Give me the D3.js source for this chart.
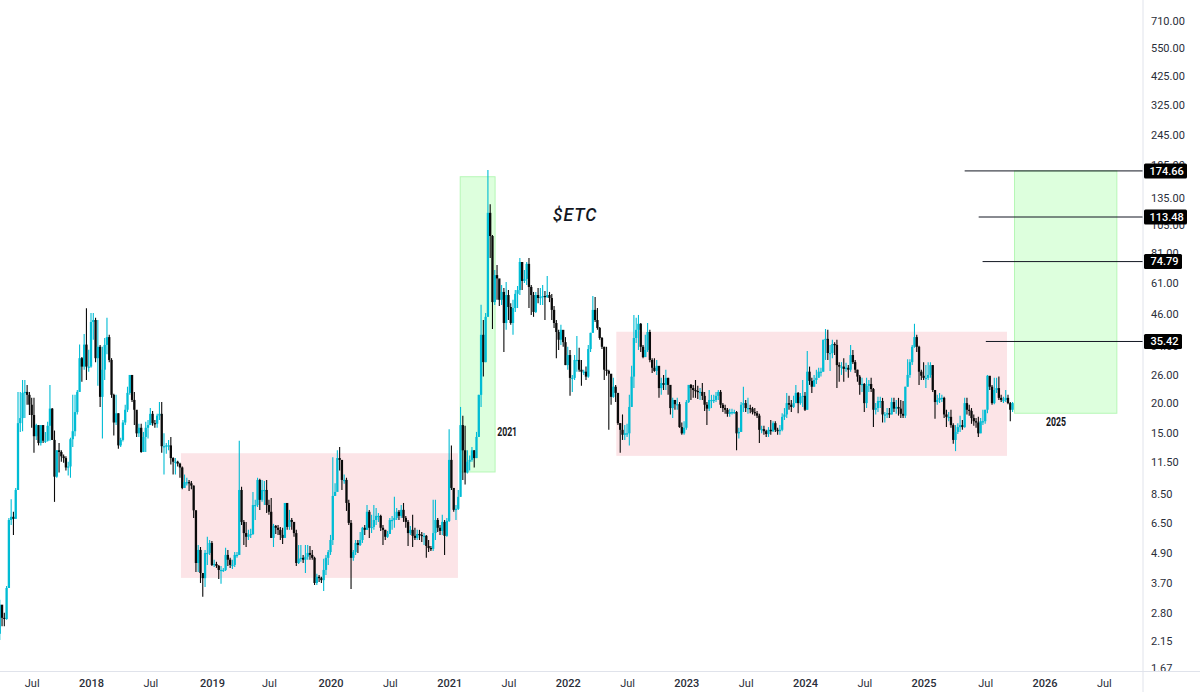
<!DOCTYPE html>
<html>
<head>
<meta charset="utf-8">
<title>$ETC weekly</title>
<script src="https://cdn.jsdelivr.net/npm/d3@7"></script>
<style>
    html, body { margin: 0; padding: 0; background: #fff; }
    svg { display: block; font-family: Roboto, sans-serif; }
</style>
</head>
<body>
<div id="chart"></div>
<script>
// Weekly closes, one row = 10 weeks, first week starts 2017-03-27
const closes = [
    3.02,2.67,2.64,3.53,6.67,6.87,6.74,8.83,16.5,17.3,
    21.9,22.1,21.5,19.6,17.8,14.6,16.2,13.7,16.2,14.0,
    14.0,16.1,18.9,14.1,10.0,12.8,12.6,12.1,11.9,10.9,
    11.0,14.2,15.3,18.3,22.1,30.3,28.0,34.4,28.0,28.0,
    42.5,43.3,30.3,33.7,21.1,27.2,34.3,36.9,29.8,21.5,
    16.6,18.1,13.4,14.1,16.6,18.7,21.9,25.9,20.5,18.7,
    15.0,15.8,12.6,14.5,15.8,16.2,18.0,16.5,16.4,17.7,
    18.0,13.3,13.3,13.4,13.4,11.9,11.5,11.5,11.3,10.9,
    9.0,9.5,9.5,9.4,9.2,7.3,4.46,5.04,4.06,3.87,
    4.9,4.9,5.38,4.38,4.42,4.34,4.18,4.18,4.18,4.81,
    4.6,4.38,4.38,4.81,4.81,8.83,6.55,5.9,5.7,5.8,
    5.85,7.67,7.67,9.7,8.05,8.83,8.83,7.67,7.2,5.64,
    6.31,6.2,6.08,5.8,5.64,7.82,6.25,6.67,6.55,5.9,
    4.46,4.64,4.68,4.6,4.73,4.9,4.81,4.68,3.7,3.92,
    3.87,3.8,4.18,4.68,4.94,5.53,8.35,8.67,11.9,11.7,
    9.7,9.7,7.82,6.49,4.68,4.94,5.38,5.28,5.53,6.2,
    6.08,7.2,6.2,6.25,6.67,6.93,6.93,6.2,6.08,5.7,
    5.85,6.67,6.67,6.8,7.2,6.93,7.33,6.8,6.55,5.9,
    6.08,5.75,5.64,5.85,5.8,5.75,5.75,5.23,5.13,5.09,
    5.9,6.67,6.2,6.02,6.55,5.75,6.61,11.7,9.0,7.33,
    7.4,8.28,16.2,12.8,10.4,11.5,11.7,12.8,11.9,14.5,
    21.5,37.7,29.2,44.6,118,95,51.2,65.9,63.9,52.3,
    56.3,42.1,54.7,48.9,42.1,48.4,55.3,57.3,74.5,62.4,
    63.6,73.2,59,54.7,46.7,54.7,53.2,53.7,54.2,53.7,
    54.7,53.2,47.6,42.1,38.7,36,39.5,35.2,28.4,31.2,
    25.2,25.2,29.8,29.8,27.2,26.7,26.7,25.5,33,38.4,
    47.6,43.3,40.2,36.6,33.7,27.2,26.9,26.2,21.1,23.2,
    21.9,16.5,15.5,14.8,15,15,19.2,25.5,36.6,39.5,
    41.8,33.7,30.6,32.7,38.7,29.8,27.7,26.9,28.2,22.9,
    24,23.6,25.2,23.6,19,20.5,19.7,19.7,15.9,15,
    15.8,20.1,23.6,22.9,22.5,22.3,22.1,22.1,21.3,19.6,
    18.9,20.5,20.5,20.5,21.3,22.1,19.6,19,18.7,18,
    18.3,18.3,18.3,15,15.2,19.6,19.9,19,19,18.9,
    18.3,18.1,17.7,15.5,15.6,15.3,14.9,15.5,15.3,16.5,
    15.5,15.3,15.5,17.5,17.9,19.9,19.6,19.2,19.9,21.9,
    19.9,21.1,21.3,18.7,26.7,24.5,23.2,24.7,25.2,26.7,
    26.7,36,36.3,31.8,31.8,34.6,34.3,28.4,28,28,
    27.4,27.7,27.2,31.2,29.2,27.2,25.5,23.6,23.8,19.9,
    23.4,23.8,22.7,18.7,19,20.3,20.3,17.9,17.9,18.1,
    17.9,20.1,18.9,19.2,18.9,18,17.7,23.2,25.9,29.2,
    33.7,36.9,33.7,26.7,25.7,25.2,25.2,25.9,28.4,22.5,
    20.1,20.5,20.9,20.9,17.9,17.5,17.5,16.2,14.1,15.2,
    15.9,16.2,15.9,19.9,18.7,18.5,17.3,16.8,16.6,15,
    16.8,16.8,18.7,25.7,23.2,19.9,22.5,22.9,20.9,20.5,
    20.5,20.9,19.9,18.7,19.9
];

const highs = [
    3.16,2.82,2.80,3.6,6.8,8.1,7.2,9.0,22.1,22.1,
    24.7,24.7,23.6,22.1,20.9,20.9,16.4,16.2,16.2,16.2,
    15.2,16.7,23.6,19.0,15.4,12.8,13.7,12.8,12.3,12.1,
    11.5,14.4,21.5,21.5,22.5,34.4,30.6,38.0,48.3,32.8,
    46.2,46.2,44.2,43.3,34.3,33.7,36.6,44.2,37.7,30.3,
    21.7,21.5,18.1,14.4,17.0,19.6,23.2,25.9,25.9,22.1,
    18.3,16.4,16.4,15.2,16.7,17.0,19.0,18.5,17.0,18.0,
    20.1,20.1,15.0,13.7,14.1,14.5,12.0,11.9,11.6,11.4,
    11.0,10.2,9.9,9.7,9.6,9.2,7.3,5.28,5.18,4.06,
    5.04,5.7,5.53,5.48,4.6,4.51,4.38,4.34,4.26,5.14,
    5.04,4.68,4.6,4.94,4.94,14.0,9.1,6.67,6.55,6.08,
    6.14,8.67,8.05,9.9,9.8,9.7,9.6,9.7,8.05,8.2,
    6.43,6.37,6.37,6.25,6.2,7.82,7.6,7.33,6.8,6.37,
    6.08,5.28,5.28,4.81,5.28,5.28,5.23,5.04,4.73,4.03,
    3.99,3.92,4.64,4.81,5.04,5.8,12.0,9.4,12.8,13.2,
    11.7,10.2,9.9,8.05,6.67,5.04,5.53,5.53,5.96,6.25,
    6.37,7.67,7.33,7.0,7.67,7.46,7.12,7.0,6.37,6.08,
    6.02,6.8,6.93,8.28,7.46,7.33,7.67,7.82,6.93,6.67,
    6.31,7.0,6.2,6.08,6.08,5.96,5.9,5.8,5.53,5.23,
    8.05,8.05,6.8,6.37,7.0,6.67,6.8,15.6,13.4,9.0,
    7.67,8.83,19.2,17.7,16.1,12.8,12.2,13.2,12.8,15.2,
    21.5,50,43.3,46.2,176,128,95.9,69.1,72.4,63,
    60.1,58.4,61.8,57.3,50.7,52.3,57.3,59.5,77.3,74.5,
    69.1,74.5,77.3,60.1,56.3,56.3,58.4,58.4,60.1,56.8,
    65.4,56.3,55.2,49.4,43.3,39.5,41.4,38.3,36.9,33.7,
    32.7,25.9,31.2,37.3,33.4,29.8,27.2,28,34.3,38.4,
    54.2,53.7,48.4,40.6,36.9,33.7,33.7,27.2,23.6,25.2,
    23.6,21.9,16.5,17.9,16.2,16.4,21.5,28.2,45.4,44.2,
    45.4,42.1,34.3,37.7,42.1,39.5,30.3,30.3,29.8,27.7,
    25.2,25.9,27.2,25.2,23.6,20.9,20.5,20.9,20.1,16.6,
    16.8,20.5,23.6,23.8,23.6,24.7,23.4,22.9,24,22.1,
    20.1,22.5,21.5,21.5,22.1,22.5,22.5,19.9,19.6,19,
    18.9,18.9,18.7,18.5,15.8,20.1,23.2,20.5,20.9,19.6,
    19.2,19,18.5,18,16.1,16.1,15.5,15.9,17,16.8,
    16.8,15.8,16.2,18.1,19,21.9,21.3,20.5,21.3,23.6,
    22.1,21.9,24.7,22.1,32.4,28,25.2,25.9,27.2,27.7,
    27.7,36,39.8,39.5,34.3,36,35.2,36,29.2,29.2,
    30.3,29,28.4,34.3,32.7,29.8,27.2,25.9,25.2,24,
    25.2,24.7,25.2,22.9,19.9,21.1,21.1,20.9,18.3,19,
    19,20.9,20.9,20.5,20.9,20.5,20.3,23.2,30,30,
    34.3,41.8,37.7,34,27.2,29.2,28.4,29.2,29.2,28.4,
    22.5,21.5,21.9,21.5,21.1,18.7,18.3,18.7,16.5,16.2,
    16.5,17.7,17,20.9,20.9,19.6,19,17.9,17.3,17.5,
    17.3,18.7,18.7,25.9,25.2,23.6,25.2,25.2,25.5,21.5,
    21.1,22.5,21.5,20.1,20.1
];

const lows = [
    2.17,2.47,2.47,2.62,6.43,6.37,5.8,6.74,8.83,15.2,
    15.3,17.3,19.6,17.8,15.8,12.5,14.1,13.4,13.4,13.7,
    13.7,13.9,14.0,14.1,7.9,9.9,10.4,11.5,11.4,10.6,
    10.1,9.9,13.2,14.6,17.9,22.1,24.3,27.2,24.7,26.7,
    27.7,36.0,29.2,23.4,19.2,14.3,24.7,31.4,29.2,20.9,
    14.7,16.2,13.0,13.2,13.9,16.2,18.3,21.5,20.1,16.2,
    14.5,14.5,12.5,12.6,12.6,14.3,16.2,16.1,15.8,15.8,
    17.0,12.5,10.2,12.4,12.8,11.2,10.2,10.2,11.0,9.9,
    8.9,9.0,9.2,8.75,8.9,6.8,4.1,4.1,3.7,3.25,
    3.56,4.38,4.81,4.34,4.3,4.26,3.84,3.67,4.1,4.14,
    4.34,4.26,4.22,4.3,4.68,4.81,6.37,5.28,5.18,5.53,
    5.64,5.8,6.67,7.53,7.33,7.9,7.67,7.12,7.0,5.64,
    5.18,5.85,5.8,5.53,5.33,5.64,6.08,6.08,6.08,5.7,
    4.34,4.42,4.51,4.46,4.06,4.6,4.6,4.6,3.63,3.63,
    3.73,3.7,3.43,3.99,4.38,4.81,5.28,8.42,9.3,10.6,
    8.83,9.35,7.26,6.37,3.5,4.55,4.81,4.9,5.23,5.38,
    5.8,6.08,5.64,5.9,6.08,6.37,6.55,6.02,5.28,5.53,
    5.64,5.85,6.08,6.2,6.67,6.67,6.8,6.55,6.2,5.23,
    5.8,5.18,5.53,5.53,5.53,5.43,5.28,4.68,4.94,4.99,
    4.99,5.53,5.96,5.8,5.8,4.81,5.7,6.55,8.83,7.2,
    6.67,7.33,8.28,9.7,9.3,10.3,10.6,11.5,10.9,11.9,
    14.5,19.2,25.5,29.2,44.6,77.3,39.8,49.8,52.3,49.4,
    49.8,32.1,39.5,43.3,41.4,37.7,46.7,48.4,54.7,57.3,
    61.2,60.1,48.4,45.4,44.6,46.2,50.7,49.8,49.8,43.3,
    53.2,51.2,43.3,40.2,30.3,32.7,34.3,33.7,28.4,27.2,
    21.3,22.1,24.7,26.7,26.7,23.4,25.9,24.7,25.2,32.1,
    38.4,42.5,39.5,36,33,24.7,25.7,15.5,19.6,20.9,
    20.1,16.2,12.5,14.1,14.1,14.5,13.4,19.2,22.9,34.9,
    32.7,32.1,30.3,30.6,32.1,29.2,26.4,26.7,25.9,20.9,
    21.5,22.5,22.5,21.5,17.9,17.3,18.7,18.7,15.8,14.8,
    14.8,15.5,19.9,20.5,20.9,20.9,20.7,20.5,20.5,18.5,
    16.2,18.5,19,19.9,20.1,20.5,19,18.3,18,17.5,
    17.5,17.9,18,12.8,14.3,15.2,18.3,18.3,18,18.1,
    17.9,17.7,17.3,13.7,15,14.8,14.5,14.5,14.8,15.2,
    15.2,14.8,14.8,15.3,17,17.3,18.7,18.3,19,19.9,
    18.1,19.6,19.2,18.5,18.7,23.6,21.9,23.2,23.8,25.5,
    25.5,26.7,29.8,29.8,26.9,30.3,31.2,22.9,24.3,25.9,
    24.3,26.7,25.2,26.7,28.7,26.4,24.3,21.5,22.1,18.3,
    19,22.1,22.1,15.9,17.9,18.3,19,16.6,16.6,17.3,
    17.3,17.9,18.3,18,17.7,17.3,17.3,17.3,23.2,25.2,
    28.4,33.4,32.1,23.6,24.7,24.7,22.9,24.7,25.2,22.1,
    17.2,19.6,19.9,20.1,17.3,15.9,16.8,15.8,13.6,12.7,
    14.9,15.2,15.5,15.8,17.9,17.7,16.4,16.1,15.8,14.5,
    15,16.2,16.4,18.1,22.5,19.6,19.7,21.9,20.5,20.1,
    19.9,20.1,19.7,16.8,18.3
];

const firstOpen = 2.3;
const firstWeek = '2017-03-27';

// Right axis
const priceTicks = [710, 550, 425, 325, 245, 185, 135, 105, 81, 61, 46, 34, 26, 20, 15, 11.5, 8.5, 6.5, 4.9, 3.7, 2.8, 2.15, 1.67];

// Bottom axis, weekly bar the label sits on
const timeTicks = ['2017-07-03', '2018-01-01', '2018-07-02', '2019-01-07', '2019-07-01', '2020-01-06', '2020-07-06',
    '2021-01-04', '2021-07-05', '2022-01-03', '2022-07-04', '2023-01-02', '2023-07-03', '2024-01-01', '2024-07-01',
    '2024-12-30', '2025-07-07', '2026-01-05', '2026-07-06'];
const timeLabels = ['Jul', '2018', 'Jul', '2019', 'Jul', '2020', 'Jul', '2021', 'Jul', '2022', 'Jul', '2023', 'Jul', '2024', 'Jul', '2025', 'Jul', '2026', 'Jul'];

// Drawn zones: [from, to, top price, bottom price]
const rangeZones = [
    ['2018-10-04', '2021-01-31', 12.45, 3.88],
    ['2022-06-01', '2025-09-12', 38.8, 12.15]
];
const rallyZones = [
    ['2021-02-07', '2021-05-25', 165.4, 10.45],
    ['2025-10-05', '2026-08-15', 174.66, 18.1]
];

// Target levels and where each line starts
const targetPrices = [174.66, 113.48, 74.79, 35.42];
const targetStarts = ['2025-05-05', '2025-06-17', '2025-06-29', '2025-07-09'];

const notes = [
    { text: '2021', date: '2021-07-01', price: 15.3 },
    { text: '2025', date: '2026-02-09', price: 16.8 }
];

const width = 1200;
const height = 692;
const plotRight = 1143;
const plotBottom = 671;
const upColor = '#00bcd4';
const downColor = '#0a0a0a';
const inkColor = '#2a2e39';
const day = d => new Date(d + 'T00:00:00Z');

const x = d3.scaleUtc()
    .domain([day('2018-01-01'), day('2024-12-30')])
    .range([91, 923.6]);
const y = d3.scaleLog()
    .domain([710, 1.67])
    .range([21, 668]);

const weekMs = 7 * 24 * 3600 * 1000;
const candles = closes.map((c, i) => ({
    date: new Date(day(firstWeek).getTime() + i * weekMs),
    open: i === 0 ? firstOpen : closes[i - 1],
    high: highs[i],
    low: lows[i],
    close: c
}));

const svg = d3.select('#chart').append('svg')
    .attr('width', width)
    .attr('height', height);

svg.append('clipPath').attr('id', 'plot-clip')
    .append('rect').attr('width', plotRight).attr('height', plotBottom);
// clip rect is in the axis group's own coordinates
svg.append('clipPath').attr('id', 'price-clip')
    .append('rect').attr('width', width - plotRight).attr('height', plotBottom);

const plot = svg.append('g').attr('clip-path', 'url(#plot-clip)');

// Zones sit under the candles
plot.selectAll('.range-zone')
    .data(rangeZones)
    .enter().append('rect')
    .attr('class', 'range-zone')
    .attr('x', d => x(day(d[0])))
    .attr('width', d => x(day(d[1])) - x(day(d[0])))
    .attr('y', d => y(d[2]))
    .attr('height', d => y(d[3]) - y(d[2]))
    .attr('fill', '#fce4e7');

plot.selectAll('.rally-zone')
    .data(rallyZones)
    .enter().append('rect')
    .attr('class', 'rally-zone')
    .attr('x', d => x(day(d[0])))
    .attr('width', d => x(day(d[1])) - x(day(d[0])))
    .attr('y', d => y(d[2]))
    .attr('height', d => y(d[3]) - y(d[2]))
    .attr('fill', '#ddffdd')
    .attr('stroke', '#b6f7b6')
    .attr('stroke-width', 1);

// Wicks then bodies
const candleColor = d => d.close >= d.open ? upColor : downColor;

plot.selectAll('.wick')
    .data(candles)
    .enter().append('line')
    .attr('class', 'wick')
    .attr('x1', d => x(d.date))
    .attr('x2', d => x(d.date))
    .attr('y1', d => y(d.high))
    .attr('y2', d => y(d.low))
    .attr('stroke', candleColor)
    .attr('stroke-width', 1.1);

plot.selectAll('.body')
    .data(candles)
    .enter().append('rect')
    .attr('class', 'body')
    .attr('x', d => x(d.date) - 1.15)
    .attr('width', 2.3)
    .attr('y', d => y(Math.max(d.open, d.close)))
    .attr('height', d => Math.max(1.2, Math.abs(y(d.open) - y(d.close))))
    .attr('fill', candleColor);

// Target lines
plot.selectAll('.target-line')
    .data(targetPrices)
    .enter().append('line')
    .attr('class', 'target-line')
    .attr('x1', (d, i) => x(day(targetStarts[i])))
    .attr('x2', plotRight)
    .attr('y1', d => y(d))
    .attr('y2', d => y(d))
    .attr('stroke', '#131722')
    .attr('stroke-width', 1);

// Text notes
svg.append('text')
    .attr('x', x(day('2022-01-03')) - 15)
    .attr('y', y(118) + 8)
    .attr('font-size', 17.5)
    .attr('font-style', 'italic')
    .attr('font-weight', 500)
    .attr('letter-spacing', 1)
    .attr('fill', '#131722')
    .text('$ETC');

svg.selectAll('.note')
    .data(notes)
    .enter().append('text')
    .attr('class', 'note')
    .attr('x', d => x(day(d.date)))
    .attr('y', d => y(d.price) + 5)
    .attr('font-size', 13)
    .attr('font-weight', 700)
    .attr('text-anchor', 'middle')
    .attr('textLength', 20)
    .attr('lengthAdjust', 'spacingAndGlyphs')
    .attr('fill', '#131722')
    .text(d => d.text);

// Axes
const yAxis = d3.axisRight(y)
    .tickValues(priceTicks)
    .tickFormat(d => d.toFixed(2))
    .tickSize(0)
    .tickPadding(8);

const yAxisG = svg.append('g')
    .attr('transform', `translate(${plotRight},0)`)
    .attr('clip-path', 'url(#price-clip)')
    .call(yAxis);
yAxisG.select('.domain').remove();
yAxisG.selectAll('text')
    .attr('font-family', 'Roboto, sans-serif')
    .attr('font-size', 11)
    .attr('fill', inkColor);

const xAxis = d3.axisBottom(x)
    .tickValues(timeTicks.map(day))
    .tickFormat((d, i) => timeLabels[i])
    .tickSize(0)
    .tickPadding(6);

const xAxisG = svg.append('g')
    .attr('transform', `translate(0,${plotBottom + 2})`)
    .call(xAxis);
xAxisG.select('.domain').remove();
xAxisG.selectAll('text')
    .attr('font-family', 'Roboto, sans-serif')
    .attr('font-size', 11)
    .attr('font-weight', (d, i) => timeLabels[i] === 'Jul' ? 400 : 500)
    .attr('fill', inkColor);

svg.append('line')
    .attr('x1', plotRight).attr('x2', plotRight)
    .attr('y1', 0).attr('y2', height)
    .attr('stroke', '#e0e3eb');
svg.append('line')
    .attr('x1', 0).attr('x2', width)
    .attr('y1', plotBottom + 0.5).attr('y2', plotBottom + 0.5)
    .attr('stroke', '#e0e3eb');

// Price tags on the axis
const tags = svg.selectAll('.price-tag')
    .data(targetPrices)
    .enter().append('g')
    .attr('class', 'price-tag')
    .attr('transform', d => `translate(${plotRight + 1},${y(d)})`);

tags.append('rect')
    .attr('y', -7.5)
    .attr('width', d => d >= 100 ? 43 : 38)
    .attr('height', 15)
    .attr('rx', 1.5)
    .attr('fill', '#000');

tags.append('text')
    .attr('x', d => d >= 100 ? 5.5 : 6.5)
    .attr('dy', '0.35em')
    .attr('font-size', 11)
    .attr('font-weight', 500)
    .attr('fill', '#fff')
    .text(d => d.toFixed(2));
</script>
</body>
</html>
